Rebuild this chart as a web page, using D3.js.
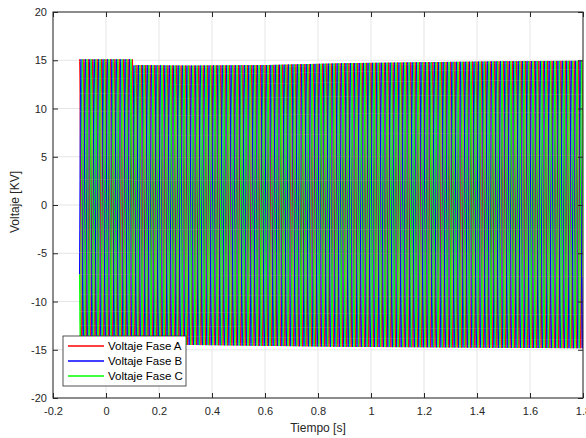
<!DOCTYPE html>
<html><head><meta charset="utf-8">
<script src="https://cdn.jsdelivr.net/npm/d3@7/dist/d3.min.js"></script>
<style>body{margin:0;background:#fff}svg{display:block}text{font-family:"Liberation Sans",Arial,sans-serif}</style>
</head><body><svg id="c" width="586" height="438"></svg>
<script>
// Data
const xTicks = [-0.2,0,0.2,0.4,0.6,0.8,1,1.2,1.4,1.6,1.8];
const yTicks = [-20,-15,-10,-5,0,5,10,15,20];
const seriesNames = ["Voltaje Fase A","Voltaje Fase B","Voltaje Fase C"];
const seriesColors = ["#ff0000","#0000ff","#00ff00"];
const phaseDeg = [90, -30, 210];          // phase angles of the three phases
const freqHz = 60;                         // line frequency
const tStart = -0.1, tEnd = 1.8;
// envelope of peak voltage (kV)
const envT   = [-0.1, 0.1,  0.102, 0.12, 0.3,  0.6,  0.9,  1.2,  1.5,  1.8];
const envPos = [15.1, 15.1, 14.45, 14.5, 14.45,14.5, 14.7, 14.8, 14.9, 14.95];
const envNeg = [14.4, 14.4, 14.45, 14.5, 14.5, 14.6, 14.7, 14.75,14.8, 14.85];

const svg = d3.select("#c");
const m = {l:53, r:583, t:12, b:398};
const x = d3.scaleLinear().domain([-0.2,1.8]).range([m.l,m.r]);
const y = d3.scaleLinear().domain([-20,20]).range([m.b,m.t]);
const ePos = d3.scaleLinear().domain(envT).range(envPos);
const eNeg = d3.scaleLinear().domain(envT).range(envNeg);

// grid
const g = svg.append("g");
g.selectAll(".gx").data(xTicks).join("line").attr("x1",d=>x(d)).attr("x2",d=>x(d))
 .attr("y1",m.t).attr("y2",m.b).attr("stroke","#e5e5e5").attr("stroke-width",1);
g.selectAll(".gy").data(yTicks).join("line").attr("y1",d=>y(d)).attr("y2",d=>y(d))
 .attr("x1",m.l).attr("x2",m.r).attr("stroke","#e5e5e5").attr("stroke-width",1);

// waveforms
const nPer = 36;
const nPts = Math.round((tEnd-tStart)*freqHz*nPer);
const clipId = "clp";
svg.append("clipPath").attr("id",clipId).append("rect").attr("x",m.l).attr("y",m.t).attr("width",m.r-m.l).attr("height",m.b-m.t);
const line = d3.line().x(d=>x(d[0])).y(d=>y(d[1]));
seriesNames.forEach((name,i)=>{
  const pts = d3.range(nPts+1).map(k=>{
    const t = tStart + k*(tEnd-tStart)/nPts;
    const s = Math.sin(2*Math.PI*freqHz*(t-tStart) + phaseDeg[i]*Math.PI/180);
    return [t, s>=0 ? s*ePos(t) : s*eNeg(t)];
  });
  svg.append("path").datum(pts).attr("d",line).attr("fill","none")
    .attr("stroke",seriesColors[i]).attr("stroke-width",1).attr("clip-path",`url(#${clipId})`);
});

// axes box
const axc = "#262626";
const fmt = d => String(+(+d).toFixed(1));
svg.append("rect").attr("x",m.l).attr("y",m.t).attr("width",m.r-m.l).attr("height",m.b-m.t)
 .attr("fill","none").attr("stroke",axc).attr("stroke-width",1);
const xa = svg.append("g").attr("transform",`translate(0,${m.b})`)
 .call(d3.axisBottom(x).tickValues(xTicks).tickSize(-5).tickPadding(9).tickFormat(fmt));
const xt = svg.append("g").attr("transform",`translate(0,${m.t})`)
 .call(d3.axisTop(x).tickValues(xTicks).tickSize(-5).tickFormat(""));
const ya = svg.append("g").attr("transform",`translate(${m.l},0)`)
 .call(d3.axisLeft(y).tickValues(yTicks).tickSize(-5).tickPadding(6).tickFormat(fmt));
const yr = svg.append("g").attr("transform",`translate(${m.r},0)`)
 .call(d3.axisRight(y).tickValues(yTicks).tickSize(-5).tickFormat(""));
[xa,xt,ya,yr].forEach(a=>{a.select(".domain").remove();a.selectAll("line").attr("stroke",axc);
  a.selectAll("text").attr("fill",axc).style("font-size","11px");});

svg.append("text").attr("x",318).attr("y",432).attr("text-anchor","middle").attr("fill",axc)
 .style("font-size","12px").text("Tiempo [s]");
svg.append("text").attr("transform","translate(19,202) rotate(-90)").attr("text-anchor","middle").attr("fill",axc)
 .style("font-size","12px").text("Voltaje [KV]");

// legend
const lg = svg.append("g").attr("transform","translate(63,336)");
lg.append("rect").attr("width",123).attr("height",50).attr("fill","#fff").attr("stroke","#262626").attr("stroke-width",0.8);
seriesNames.forEach((n,i)=>{
  const yy = 10+i*15;
  lg.append("line").attr("x1",5).attr("x2",41).attr("y1",yy).attr("y2",yy)
    .attr("stroke",seriesColors[i]).attr("stroke-width",1.6);
  lg.append("text").attr("x",45).attr("y",yy+4).attr("fill","#000").style("font-size","11.5px").text(n);
});
</script></body></html>
